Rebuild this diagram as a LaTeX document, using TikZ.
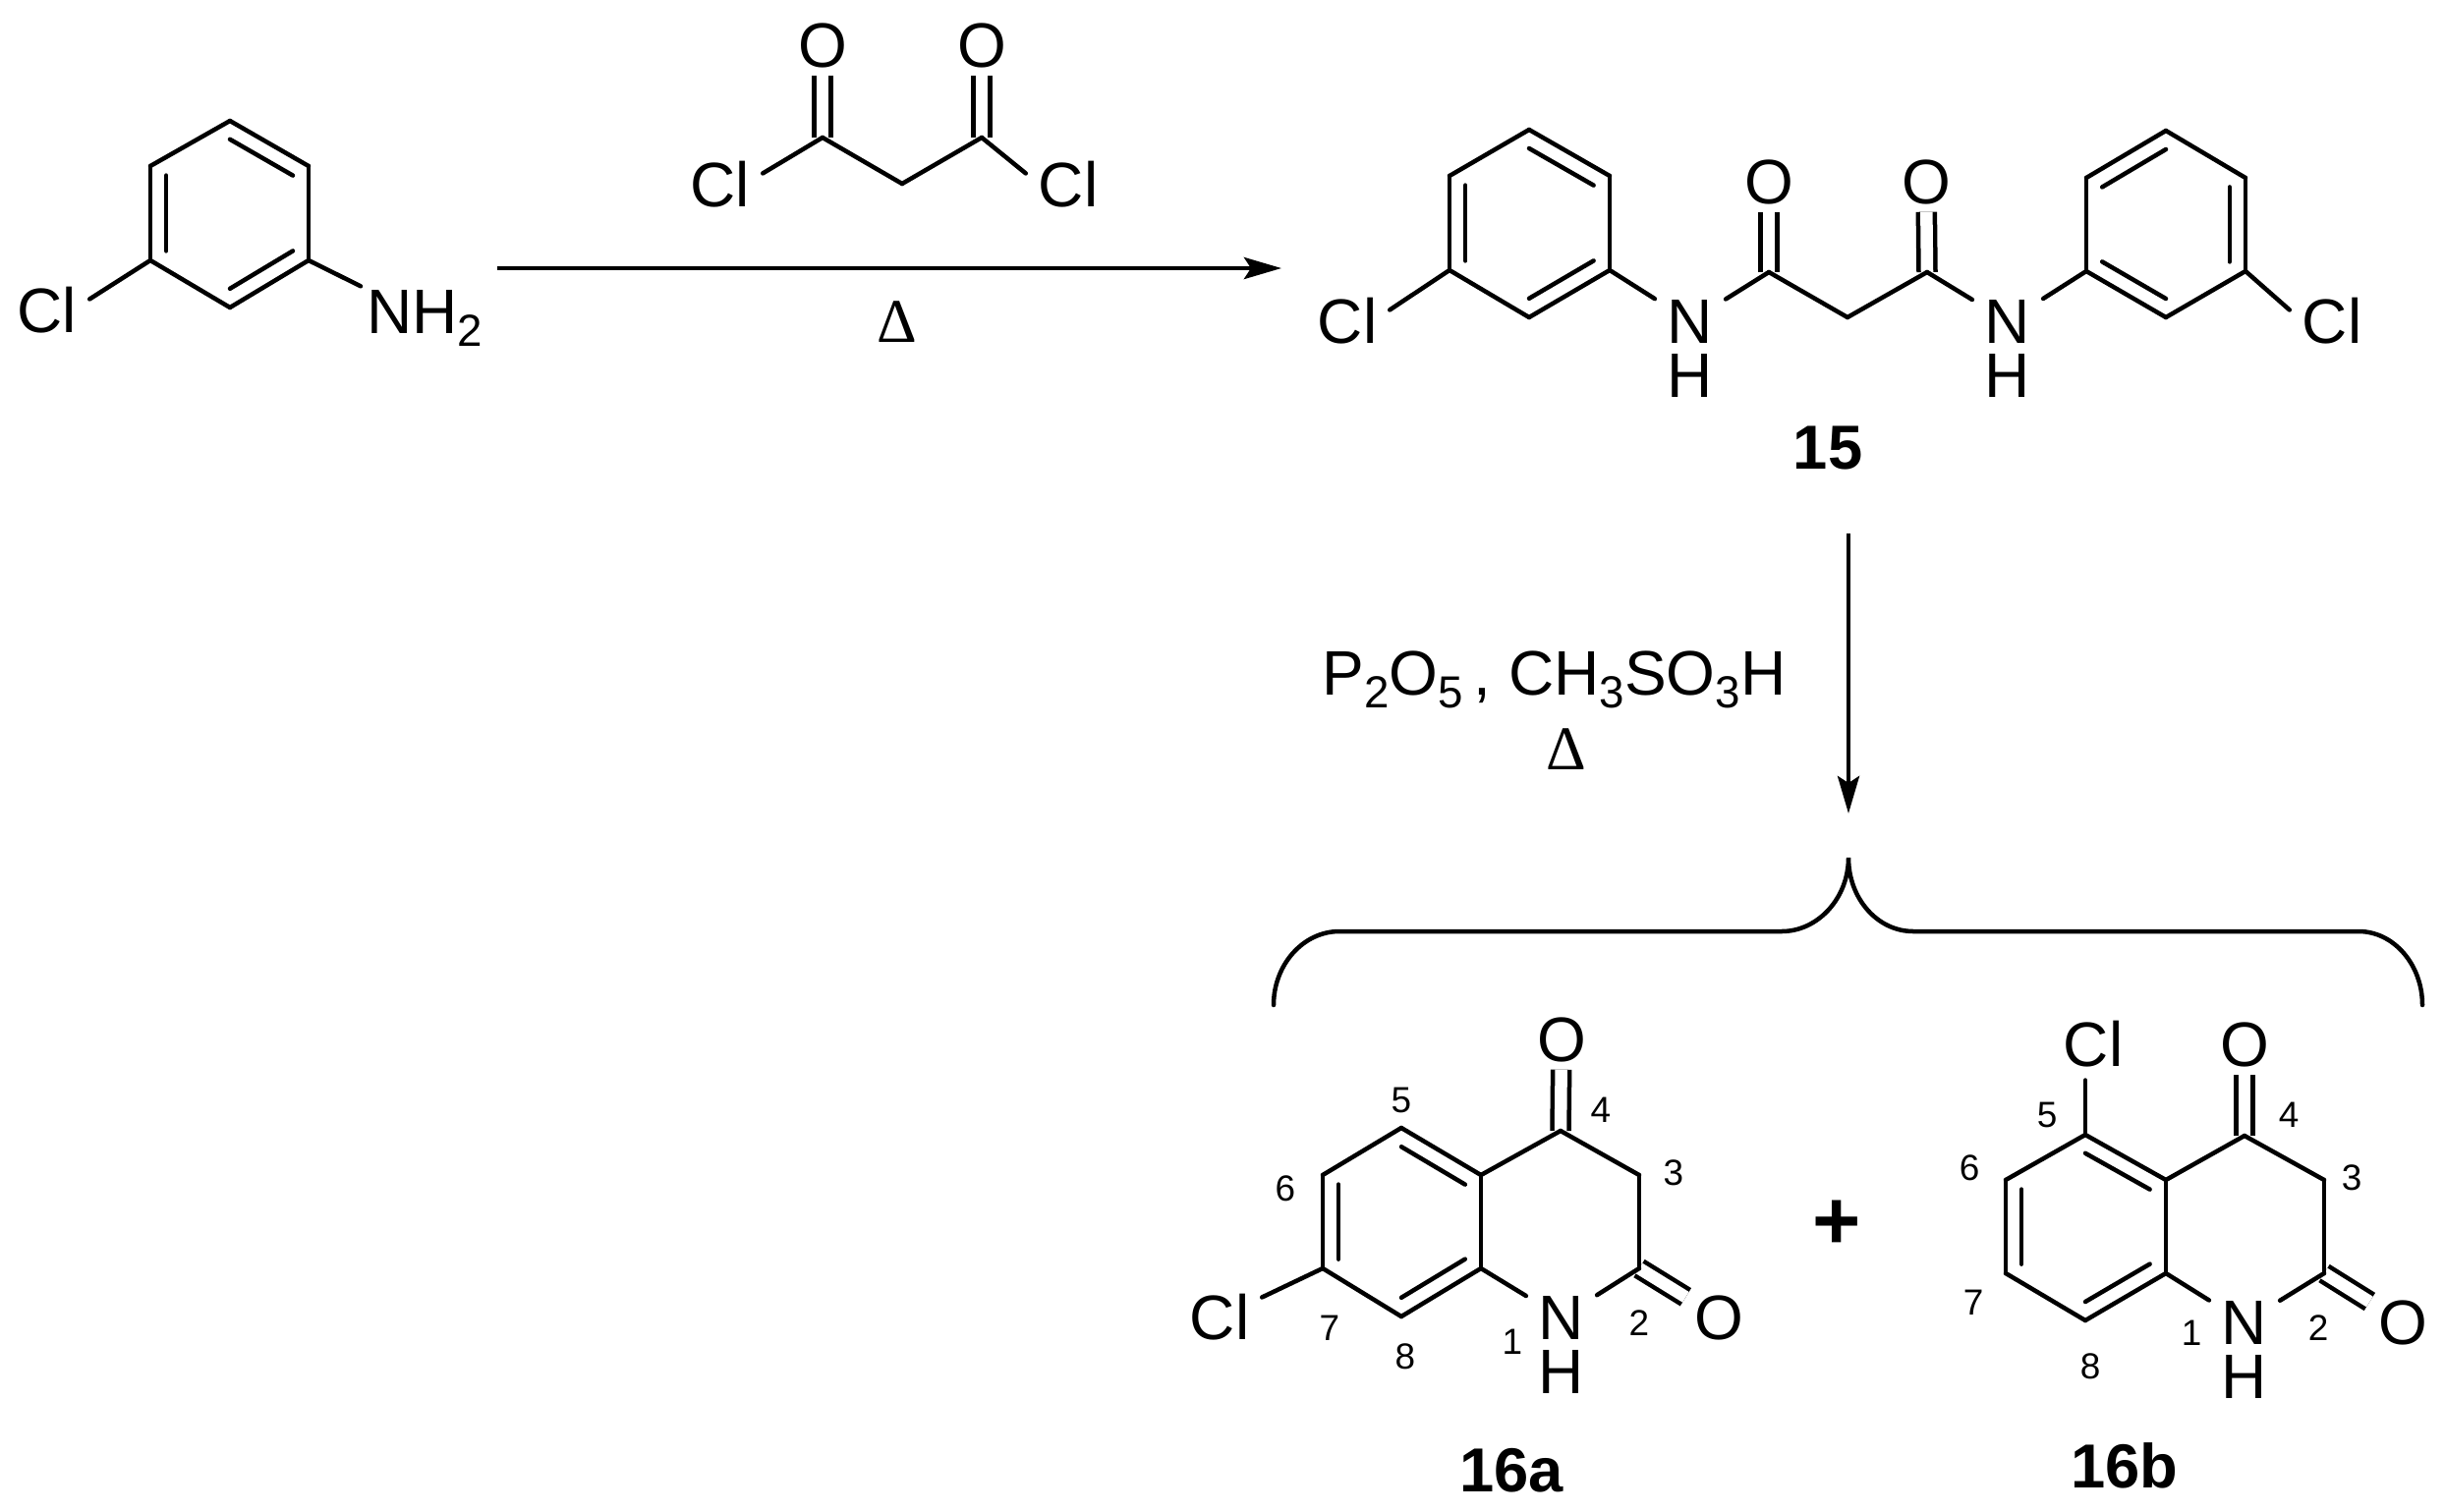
\documentclass[tikz,border=0pt]{standalone}
\usepackage{fontspec}
\setmainfont{Liberation Sans}
\newfontfamily\deltafont{Liberation Serif}
\usetikzlibrary{arrows.meta,calc}
\newcommand{\subs}[1]{\raisebox{-0.13cm}{\fontsize{13}{13}\selectfont #1}}
\newcommand{\nhgroup}{N\llap{\smash{\raisebox{-0.55cm}{H}}}}
\newcommand{\ringbond}[3]{\draw ($(#1)!0.8!(#2)$) to ($(#1)!0.8!(#3)$);}
\tikzset{
  bond/.style={line width=0.045cm,line cap=round},
  dblbond/.style={double,double distance=0.125cm,line width=0.045cm,shorten >=-0.05cm},
  atom/.style={font=\fontsize{18.2}{20}\selectfont,inner sep=0pt,outer sep=0.13cm},
  locant/.style={font=\fontsize{10.5}{12}\selectfont,inner sep=0pt},
  cpd/.style={font=\fontsize{18}{20}\selectfont\bfseries,inner sep=0pt},
  reagent/.style={font=\fontsize{18.2}{20}\selectfont,inner sep=0pt},
  heat/.style={font=\fontsize{18}{20}\selectfont\deltafont,inner sep=0pt},
  rxnarrow/.style={line width=0.045cm,-{Stealth[length=0.38cm,width=0.22cm,inset=0.07cm]}}
}
\begin{document}
\begin{tikzpicture}[x=0.01cm,y=-0.01cm]
      \useasboundingbox (0,0) rectangle (2487,1539);
      \draw
        (234,217) coordinate (anc)
        (234,123) coordinate (an1)
        (314,169) coordinate (an2)
        (314,265) coordinate (an3)
        (234,313) coordinate (an4)
        (153,265) coordinate (an5)
        (153,169) coordinate (an6)
        (48,316) node[atom] (ancl){Cl}
        (373,339) node[atom,anchor=base west,outer sep=0.06cm,xshift=-0.06cm] (annh){NH\subs{2}};
      \begin{scope}[bond]
        \draw (an1) to (an2);
        \draw (an2) to (an3);
        \draw (an3) to (an4);
        \draw (an4) to (an5);
        \draw (an5) to (an6);
        \draw (an6) to (an1);
        \ringbond{anc}{an1}{an2}
        \ringbond{anc}{an3}{an4}
        \ringbond{anc}{an5}{an6}
        \draw (an5) to (ancl.15);
        \draw (an3) to (annh);
      \end{scope}
      \draw
        (837,140) coordinate (mc1)
        (918,187) coordinate (mc2)
        (999,140) coordinate (mc3)
        (837,46) node[atom] (mo1){O}
        (999,46) node[atom] (mo2){O}
        (733,188) node[atom] (mcl1){Cl}
        (1087,188) node[atom] (mcl2){Cl};
      \draw[dblbond] (mc1) to (mo1);
      \draw[dblbond] (mc3) to (mo2);
      \begin{scope}[bond]
        \draw (mc1) to (mc2);
        \draw (mc2) to (mc3);
        \draw (mc1) to (mcl1.15);
        \draw (mc3) to (mcl2.165);
      \end{scope}
      \draw
        (506,273) coordinate (a1s)
        (1304,273) coordinate (a1e)
        (913,328) node[heat] (d1){Δ};
      \draw[rxnarrow] (a1s) to (a1e);
      \draw
        (1556,227) coordinate (bac)
        (1556,132) coordinate (ba1)
        (1638,179) coordinate (ba2)
        (1638,275) coordinate (ba3)
        (1556,323) coordinate (ba4)
        (1475,275) coordinate (ba5)
        (1475,179) coordinate (ba6)
        (2204,228) coordinate (bbc)
        (2204,133) coordinate (bb1)
        (2285,181) coordinate (bb2)
        (2285,276) coordinate (bb3)
        (2204,323) coordinate (bb4)
        (2123,276) coordinate (bb5)
        (2123,181) coordinate (bb6)
        (1800,277) coordinate (bc1)
        (1880,323) coordinate (bc2)
        (1961,277) coordinate (bc3)
        (1800,185) node[atom] (bo1){O}
        (1960,185) node[atom] (bo2){O}
        (1371,327) node[atom] (bcl1){Cl}
        (2373,327) node[atom] (bcl2){Cl}
        (1720,327) node[atom] (bn1){\nhgroup}
        (2043,327) node[atom] (bn2){\nhgroup}
        (1860,456) node[cpd] (c15){15};
      \draw[dblbond] (bc1) to (bo1);
      \draw[dblbond] (bc3) to (bo2);
      \begin{scope}[bond]
        \draw (ba1) to (ba2);
        \draw (ba2) to (ba3);
        \draw (ba3) to (ba4);
        \draw (ba4) to (ba5);
        \draw (ba5) to (ba6);
        \draw (ba6) to (ba1);
        \ringbond{bac}{ba1}{ba2}
        \ringbond{bac}{ba3}{ba4}
        \ringbond{bac}{ba5}{ba6}
        \draw (bb1) to (bb2);
        \draw (bb2) to (bb3);
        \draw (bb3) to (bb4);
        \draw (bb4) to (bb5);
        \draw (bb5) to (bb6);
        \draw (bb6) to (bb1);
        \ringbond{bbc}{bb2}{bb3}
        \ringbond{bbc}{bb4}{bb5}
        \ringbond{bbc}{bb6}{bb1}
        \draw (ba5) to (bcl1.15);
        \draw (ba3) to (bn1);
        \draw (bn1) to (bc1);
        \draw (bc1) to (bc2);
        \draw (bc2) to (bc3);
        \draw (bc3) to (bn2);
        \draw (bn2) to (bb5);
        \draw (bb3) to (bcl2.165);
      \end{scope}
      \draw
        (1881,543) coordinate (a2s)
        (1881,828) coordinate (a2e)
        (1345,707) node[reagent,anchor=base west] (rg){P\subs{2}O\subs{5}\,, CH\subs{3}SO\subs{3}H}
        (1594,763) node[heat] (d2){Δ}
        (1296,1023) coordinate (brl)
        (1363,948) coordinate (brl1)
        (1813,948) coordinate (brl2)
        (1881,873) coordinate (brt)
        (1947,948) coordinate (brr2)
        (2400,948) coordinate (brr1)
        (2465,1023) coordinate (brr);
      \draw[rxnarrow] (a2s) to (a2e);
      \draw[bond] (brl) .. controls (1296,982) and (1326,948) .. (brl1) to (brl2)
        .. controls (1850,948) and (1881,914) .. (brt)
        .. controls (1881,914) and (1910,948) .. (brr2) to (brr1)
        .. controls (2436,948) and (2465,982) .. (brr);
      \draw
        (1426,1244) coordinate (qac)
        (1426,1148) coordinate (qa5)
        (1507,1196) coordinate (qa4a)
        (1507,1291) coordinate (qa8a)
        (1426,1340) coordinate (qa8)
        (1346,1291) coordinate (qa7)
        (1346,1196) coordinate (qa6)
        (1588,1151) coordinate (qa4)
        (1668,1196) coordinate (qa3)
        (1668,1291) coordinate (qa2)
        (1589,1058) node[atom] (qao4){O}
        (1749,1341) node[atom] (qao2){O}
        (1589,1341) node[atom] (qan){\nhgroup}
        (1241,1341) node[atom] (qacl){Cl}
        (1426,1120) node[locant] (la5){5}
        (1308,1210) node[locant] (la6){6}
        (1629,1130) node[locant] (la4){4}
        (1703,1194) node[locant] (la3){3}
        (1353,1352) node[locant] (la7){7}
        (1430,1381) node[locant] (la8){8}
        (1539,1366) node[locant] (la1){1}
        (1668,1347) node[locant] (la2){2}
        (1538,1497) node[cpd] (c16a){16a};
      \draw[dblbond] (qa4) to (qao4);
      \draw[dblbond] (qa2) to (qao2);
      \begin{scope}[bond]
        \draw (qa5) to (qa4a);
        \draw (qa4a) to (qa8a);
        \draw (qa8a) to (qa8);
        \draw (qa8) to (qa7);
        \draw (qa7) to (qa6);
        \draw (qa6) to (qa5);
        \ringbond{qac}{qa5}{qa4a}
        \ringbond{qac}{qa8a}{qa8}
        \ringbond{qac}{qa7}{qa6}
        \draw (qa4a) to (qa4);
        \draw (qa4) to (qa3);
        \draw (qa3) to (qa2);
        \draw (qa2) to (qan);
        \draw (qan) to (qa8a);
        \draw (qa7) to (qacl);
      \end{scope}
      \draw
        (1869,1247) node[cpd,font=\fontsize{24}{26}\selectfont\bfseries] (plus){+}
        (2122,1249) coordinate (qbc)
        (2122,1155) coordinate (qb5)
        (2204,1201) coordinate (qb4a)
        (2204,1296) coordinate (qb8a)
        (2122,1344) coordinate (qb8)
        (2041,1296) coordinate (qb7)
        (2041,1201) coordinate (qb6)
        (2284,1156) coordinate (qb4)
        (2365,1201) coordinate (qb3)
        (2365,1296) coordinate (qb2)
        (2284,1063) node[atom] (qbo4){O}
        (2445,1346) node[atom] (qbo2){O}
        (2284,1346) node[atom] (qbn){\nhgroup}
        (2130,1063) node[atom] (qbcl){Cl}
        (2083,1135) node[locant] (lb5){5}
        (2004,1189) node[locant] (lb6){6}
        (2329,1135) node[locant] (lb4){4}
        (2393,1199) node[locant] (lb3){3}
        (2008,1326) node[locant] (lb7){7}
        (2127,1391) node[locant] (lb8){8}
        (2230,1357) node[locant] (lb1){1}
        (2359,1352) node[locant] (lb2){2}
        (2162,1492) node[cpd] (c16b){16b};
      \draw[dblbond] (qb4) to (qbo4);
      \draw[dblbond] (qb2) to (qbo2);
      \begin{scope}[bond]
        \draw (qb5) to (qb4a);
        \draw (qb4a) to (qb8a);
        \draw (qb8a) to (qb8);
        \draw (qb8) to (qb7);
        \draw (qb7) to (qb6);
        \draw (qb6) to (qb5);
        \ringbond{qbc}{qb5}{qb4a}
        \ringbond{qbc}{qb8a}{qb8}
        \ringbond{qbc}{qb7}{qb6}
        \draw (qb4a) to (qb4);
        \draw (qb4) to (qb3);
        \draw (qb3) to (qb2);
        \draw (qb2) to (qbn);
        \draw (qbn) to (qb8a);
        \draw (qb5) to (qb5 |- qbcl.south);
      \end{scope}
    \end{tikzpicture}
\end{document}
